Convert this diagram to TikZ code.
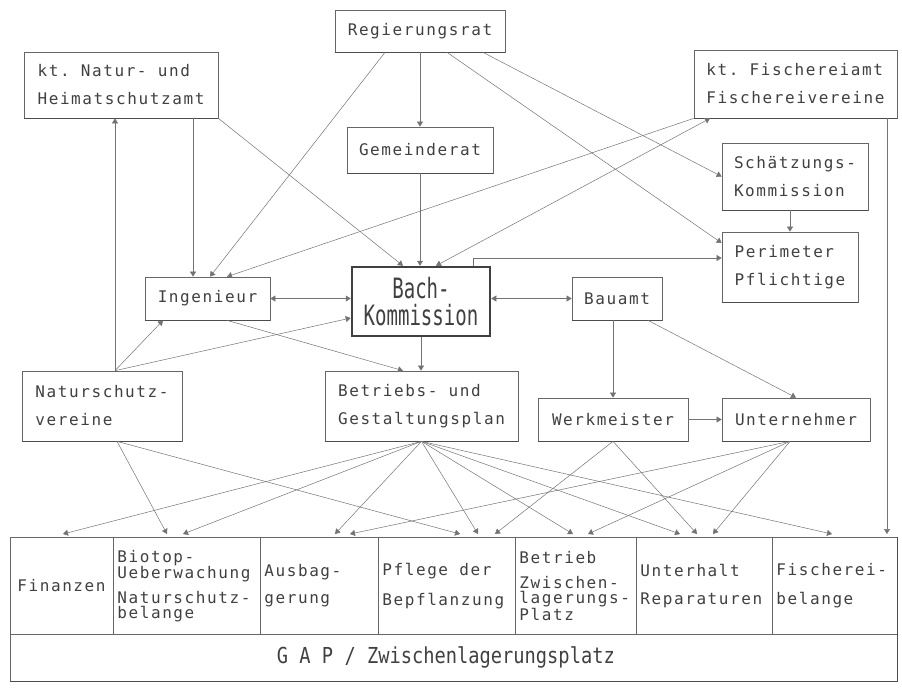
\documentclass[tikz,border=0pt]{standalone}
\usepackage{fontspec}
\usetikzlibrary{arrows.meta,calc}
\newfontfamily\dm[LetterSpace=10]{DejaVu Sans Mono}
\newfontfamily\dmn[FakeStretch=0.68]{DejaVu Sans Mono}
\newfontfamily\dmg[FakeStretch=0.85]{DejaVu Sans Mono}
\newcommand\ms{\hspace{11.2pt}}
\begin{document}
\begin{tikzpicture}[x=1pt,y=-1pt,
 box/.style={draw=black!60, line width=0.7pt, fill=white, text=black!75,
   font=\dm\fontsize{16}{28}\selectfont, inner sep=0pt},
 conn/.style={draw=black!55, line width=0.5pt},
 arr/.style={conn, -{Triangle[length=5pt,width=6pt]}},
 darr/.style={conn, {Triangle[length=5pt,width=6pt]}-{Triangle[length=5pt,width=6pt]}},
 cell/.style={draw=black!60, line width=0.7pt, anchor=north west, minimum height=97pt,
   text=black!75, font=\dm\fontsize{16}{14.5}\selectfont, align=left, inner ysep=0pt, inner xsep=4pt},
 shadow/.style={draw=black!70, line width=1.4pt}
]
\useasboundingbox (0,0) rectangle (902,689);

% boxes
\node[box, minimum width=170pt, minimum height=42pt] (reg) at (420,31) {Regierungsrat};
\node[box, minimum width=194pt, minimum height=66pt, align=left] (natur) at (121,85) {kt.\ms Natur-\ms und\\Heimatschutzamt};
\node[box, minimum width=146pt, minimum height=46pt] (gem) at (420,150) {Gemeinderat};
\node[box, minimum width=203pt, minimum height=68pt, align=left] (fisch) at (795.5,84) {kt.\ms Fischereiamt\\Fischereivereine};
\node[box, minimum width=146pt, minimum height=67pt, align=left] (schaetz) at (795,176.5) {Schätzungs-\\Kommission};
\node[box, minimum width=136pt, minimum height=70pt, align=left] (perim) at (790,267) {Perimeter\\Pflichtige};
\node[box, minimum width=125pt, minimum height=43pt] (ing) at (207.5,298.5) {Ingenieur};
\node[box, minimum width=138pt, minimum height=69pt, line width=2.5pt, draw=black!75, align=center,
   font=\dmn\fontsize{28}{27}\selectfont] (bach) at (421,301.5) {Bach-\\Kommission};
\node[box, minimum width=90pt, minimum height=43pt] (bau) at (617,298.5) {Bauamt};
\node[box, minimum width=160pt, minimum height=70pt, align=left] (nsv) at (102,406) {Naturschutz-\\vereine};
\node[box, minimum width=193pt, minimum height=70pt, align=left] (bgp) at (421.5,406) {Betriebs-\ms und\\Gestaltungsplan};
\node[box, minimum width=150pt, minimum height=43pt] (werk) at (613,419.5) {Werkmeister};
\node[box, minimum width=148pt, minimum height=43pt] (unt) at (796,419.5) {Unternehmer};

\foreach \n in {reg,natur,gem,fisch,schaetz,perim,ing,bau,nsv,bgp,werk,unt}
  \draw[shadow] (\n.south west) -- (\n.south east);

% table
\node[cell, text width=89pt, inner xsep=7pt] (c1) at (10,537) {Finanzen};
\node[cell, text width=139pt] (c2) at (113,537) {Biotop-\\Ueberwachung\\[8pt]Naturschutz-\\belange};
\node[cell, text width=110pt] (c3) at (260,537) {Ausbag-\\[13pt]gerung};
\node[cell, text width=129pt] (c4) at (378,537) {Pflege\ms der\\[13pt]Bepflanzung};
\node[cell, text width=113pt] (c5) at (515,537) {Betrieb\\[11pt]Zwischen-\\lagerungs-\\Platz};
\node[cell, text width=128pt] (c6) at (636,537) {Unterhalt\\[13pt]Reparaturen};
\node[cell, text width=117pt] (c7) at (772,537) {Fischerei-\\[15pt]belange};
\node[cell, minimum height=47pt, text width=879pt, align=center,
   font=\dmg\fontsize{22}{24}\selectfont] (gap) at (10,634)
   {G\hspace{11.3pt}A\hspace{11.3pt}P\hspace{11.3pt}/\hspace{11.3pt}Zwischenlagerungsplatz\hspace*{16pt}};
\draw[shadow] (gap.south west) -- (gap.south east) -- (c7.north east);

% helper coordinates
\coordinate (i1) at ([xshift=-14.5pt]ing.north);
\coordinate (i2) at ([xshift=2.5pt]ing.north);
\coordinate (i3) at ([xshift=19.5pt]ing.north);
\coordinate (b1) at ([xshift=-18pt]bach.north);
\coordinate (b2) at (gem.south |- bach.north);
\coordinate (b3) at ([xshift=15pt]bach.north);
\coordinate (n1) at ([xshift=13pt]nsv.north);
\coordinate (n2) at ([xshift=15pt]nsv.south);
\coordinate (u2) at ([xshift=-6pt]unt.south);
\coordinate (t1) at (63,534);
\coordinate (t2) at (167,534);
\coordinate (t3) at (183,534);
\coordinate (t4) at (335,534);
\coordinate (t5) at (350,534);
\coordinate (t6) at (460,534);
\coordinate (t7) at (478,534);
\coordinate (t8) at (495,534);
\coordinate (t9) at (573,534);
\coordinate (t10) at (588,534);
\coordinate (t11) at (680,534);
\coordinate (t12) at (697,534);
\coordinate (t13) at (713,534);
\coordinate (t14) at (832,534);
\coordinate (t15) at (887,534);

% upper connectors
\draw[arr] (reg) -- (gem);
\draw[arr] ([xshift=-35pt]reg.south) -- (i2);
\draw[arr] ([xshift=27pt]reg.south) -- ([yshift=24pt]perim.west);
\draw[arr] ([xshift=63pt]reg.south) -- (schaetz.west);
\draw[arr] (natur.south -| i1) -- (i1);
\draw[arr] (natur.south east) -- (b1);
\draw[arr] (gem.south) -- (b2);
\draw[arr] (fisch.south west) -- (i3);
\draw[darr] ([xshift=-85.5pt]fisch.south) -- (b3);
\draw[arr] (perim.north |- schaetz.south) -- (perim.north);
\draw[arr] ([xshift=52pt]bach.north) |- ([yshift=9pt]perim.west);
\draw[darr] (ing.east) -- (ing.east -| bach.west);
\draw[darr] (bau.west -| bach.east) -- (bau.west);
\draw[arr] (n1) -- (natur.south -| n1);
\draw[arr] (n1) -- ([xshift=-44.5pt]ing.south);
\draw[arr] (n1) -- ([yshift=-16.5pt]bach.west);
\draw[arr] ([xshift=19.5pt]ing.south) -- ([xshift=-18.5pt]bgp.north);
\draw[arr] (bach.south) -- (bach.south |- bgp.north);
\draw[arr] (werk.north |- bau.south) -- (werk.north);
\draw[arr] ([xshift=31pt]bau.south) -- (unt.north);
\draw[arr] (werk.east) -- (unt.west);

% lower connectors
\draw[arr] (t15 |- fisch.south) -- (t15);
\foreach \t in {t2,t6} \draw[arr] (n2) -- (\t);
\foreach \t in {t1,t3,t4,t7,t9,t11,t14} \draw[arr] (bgp.south) -- (\t);
\foreach \t in {t8,t12} \draw[arr] (werk.south) -- (\t);
\foreach \t in {t5,t10,t13} \draw[arr] (u2) -- (\t);
\end{tikzpicture}
\end{document}
